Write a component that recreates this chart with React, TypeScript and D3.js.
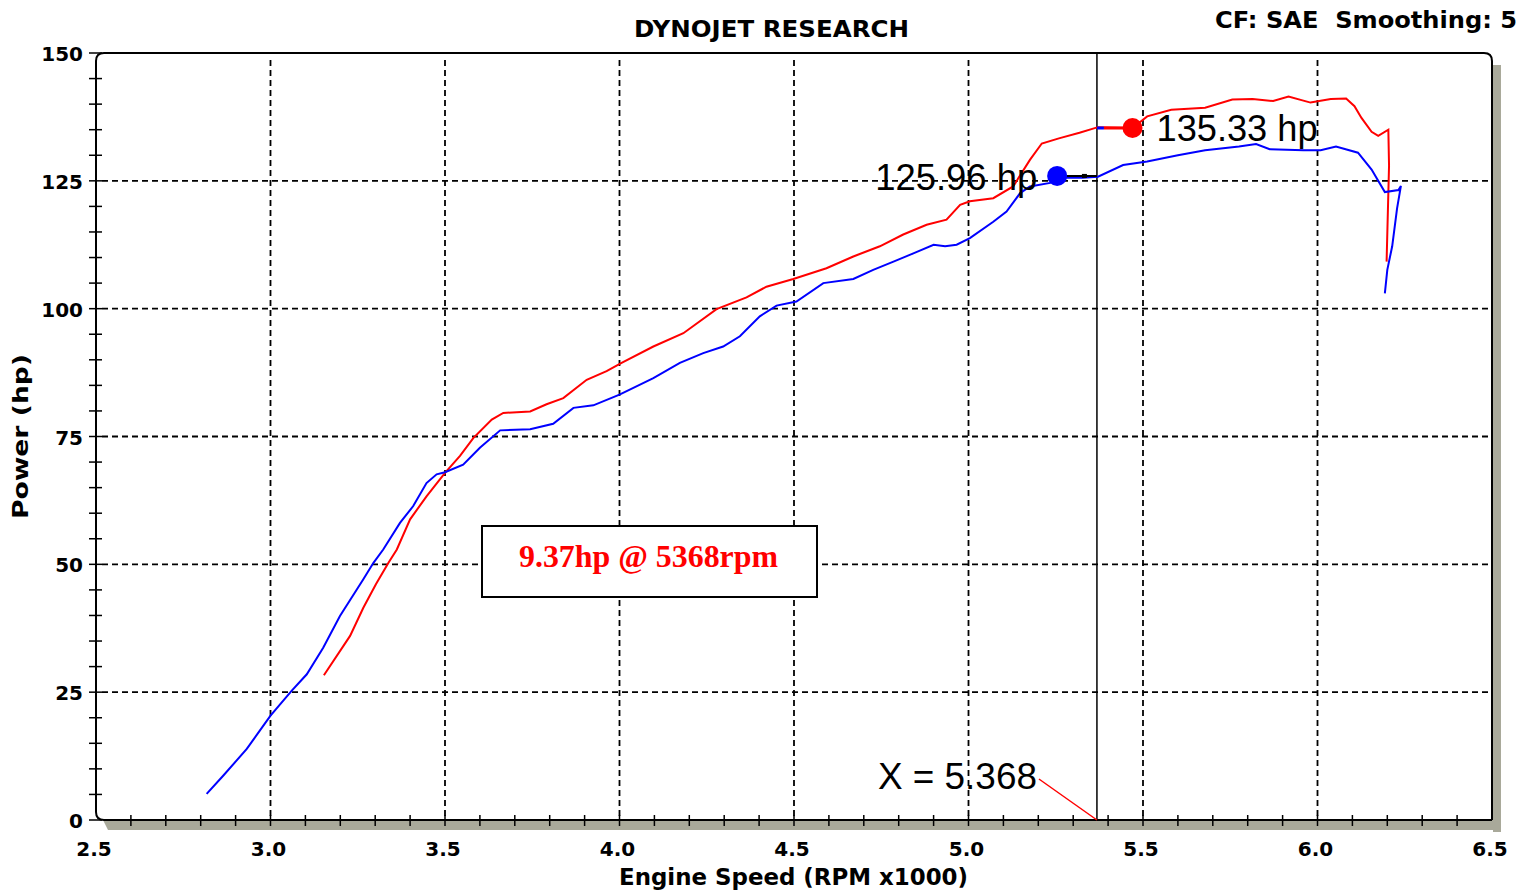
import React from 'react'
import * as d3 from 'd3'

// Dyno run values (rpm x1000, hp)
const redRpm = [3.153, 3.228, 3.266, 3.302, 3.338, 3.362, 3.4, 3.447, 3.5, 3.543, 3.581, 3.634, 3.667, 3.744, 3.791, 3.839, 3.906, 3.963, 4.006, 4.097, 4.183, 4.278, 4.364, 4.421, 4.498, 4.593, 4.67, 4.746, 4.813, 4.88, 4.937, 4.976, 5.004, 5.071, 5.128, 5.176, 5.21, 5.259, 5.318, 5.371, 5.47, 5.512, 5.581, 5.678, 5.756, 5.814, 5.873, 5.917, 5.98, 6.038, 6.082, 6.106, 6.126, 6.155, 6.174, 6.203, 6.205, 6.198]
const redHp = [28.3, 36.0, 41.5, 46.1, 50.3, 52.9, 58.8, 63.3, 67.9, 71.2, 74.7, 78.3, 79.6, 79.9, 81.3, 82.5, 86.1, 87.8, 89.4, 92.6, 95.2, 99.9, 102.2, 104.3, 105.8, 107.9, 110.2, 112.2, 114.5, 116.4, 117.4, 120.3, 121.0, 121.6, 123.9, 129.1, 132.3, 133.3, 134.4, 135.5, 135.33, 137.6, 138.9, 139.3, 140.9, 141.0, 140.6, 141.5, 140.3, 141.0, 141.1, 139.6, 137.3, 134.6, 133.8, 135.0, 128.0, 109.2]

const blueRpm = [2.817, 2.865, 2.932, 3.0, 3.061, 3.104, 3.151, 3.199, 3.266, 3.295, 3.323, 3.371, 3.409, 3.447, 3.476, 3.5, 3.552, 3.6, 3.658, 3.744, 3.81, 3.868, 3.925, 4.0, 4.097, 4.173, 4.24, 4.297, 4.345, 4.402, 4.45, 4.507, 4.584, 4.67, 4.727, 4.785, 4.842, 4.9, 4.933, 4.966, 5.004, 5.071, 5.109, 5.148, 5.176, 5.234, 5.254, 5.328, 5.371, 5.443, 5.512, 5.6, 5.678, 5.775, 5.824, 5.863, 5.96, 6.009, 6.053, 6.116, 6.155, 6.193, 6.232, 6.239, 6.228, 6.214, 6.2, 6.193]
const blueHp = [5.1, 8.7, 13.9, 20.4, 25.3, 28.5, 33.7, 39.9, 47.1, 50.3, 52.9, 58.1, 61.4, 65.9, 67.6, 68.0, 69.5, 72.8, 76.2, 76.4, 77.5, 80.6, 81.1, 83.2, 86.4, 89.4, 91.3, 92.6, 94.6, 98.5, 100.6, 101.4, 105.0, 105.8, 107.6, 109.2, 110.8, 112.5, 112.2, 112.5, 113.8, 117.0, 119.0, 122.6, 123.9, 124.6, 125.6, 125.6, 125.8, 128.1, 128.8, 130.0, 131.0, 131.7, 132.2, 131.2, 131.0, 131.0, 131.7, 130.5, 127.2, 122.8, 123.2, 124.0, 119.6, 112.2, 107.6, 103.0]

const xTicks = [2.5, 3.0, 3.5, 4.0, 4.5, 5.0, 5.5, 6.0, 6.5]
const yTicks = [0, 25, 50, 75, 100, 125, 150]

const cursorRpm = 5.368
const redPeak = { rpm: 5.47, hp: 135.33, label: '135.33 hp' }
const bluePeak = { rpm: 5.254, hp: 125.96, label: '125.96 hp' }
const deltaText = '9.37hp @ 5368rpm'

const W = 1535
const H = 891
const left = 96
const right = 1492
const top = 53
const bottom = 820

export default function App() {
    const x = d3.scaleLinear().domain([2.5, 6.5]).range([left, right])
    const y = d3.scaleLinear().domain([0, 150]).range([bottom, top])

    const line = d3
        .line<[number, number]>()
        .x((d) => x(d[0]))
        .y((d) => y(d[1]))
        .curve(d3.curveLinear)

    const red = redRpm.map((r, i) => [r, redHp[i]] as [number, number])
    const blue = blueRpm.map((r, i) => [r, blueHp[i]] as [number, number])

    const minorX = d3.range(26, 65).map((v) => v / 10)
    const minorY = d3.range(0, 151, 5)
    const cx = x(cursorRpm)
    const shadow = '#a9a99a'
    const tickFont = 'DejaVu Sans, Verdana, sans-serif'

    // frame with rounded corners on top and bottom-left
    const r = 8
    const frame = `M${left},${bottom - r} V${top + r} Q${left},${top} ${left + r},${top} H${right - r} Q${right},${top} ${right},${top + r} V${bottom}`

    return (
        <svg width={W} height={H} style={{ position: 'absolute', left: 0, top: 0, background: '#fff' }}>
            {/* shadow */}
            <rect x={right + 1} y={top + 12} width={8} height={bottom - top} fill={shadow} />
            <path d={`M${left + 7},${bottom} H${right + 9} V${bottom + 10} H${left + 12} Z`} fill={shadow} />

            {/* grid */}
            {xTicks.slice(1, -1).map((t) => (
                <line key={'gx' + t} x1={x(t)} x2={x(t)} y1={top + 7} y2={bottom} stroke="#000" strokeWidth={1.8} strokeDasharray="6,4" />
            ))}
            {yTicks.slice(1, -1).map((t) => (
                <line key={'gy' + t} x1={left + 6} x2={right - 2} y1={y(t)} y2={y(t)} stroke="#000" strokeWidth={1.8} strokeDasharray="6,4" />
            ))}

            {/* minor ticks */}
            {minorX.map((t) => (
                <line key={'mx' + t} x1={x(t)} x2={x(t)} y1={bottom - 5} y2={bottom + 6} stroke="#000" strokeWidth={1.5} />
            ))}
            {minorY.map((t) => (
                <line key={'my' + t} x1={left - 7} x2={left + 6} y1={y(t)} y2={y(t)} stroke="#000" strokeWidth={1.5} />
            ))}

            {/* frame + axis */}
            <path d={frame} fill="none" stroke="#000" strokeWidth={2} />
            <path d={`M${left},${bottom - r} Q${left},${bottom} ${left + r},${bottom} H${right}`} fill="none" stroke="#000" strokeWidth={2} />

            {/* cursor */}
            <line x1={cx} x2={cx} y1={top} y2={bottom} stroke="#000" strokeWidth={1.5} />

            {/* curves */}
            <path d={line(red) ?? ''} fill="none" stroke="#ff0000" strokeWidth={2} />
            <path d={line(blue) ?? ''} fill="none" stroke="#0000ff" strokeWidth={2} />

            {/* peak markers */}
            <line x1={cx} x2={cx + 7} y1={y(redPeak.hp)} y2={y(redPeak.hp)} stroke="#0000ff" strokeWidth={3} />
            <line x1={cx + 7} x2={x(redPeak.rpm)} y1={y(redPeak.hp)} y2={y(redPeak.hp)} stroke="#ff0000" strokeWidth={3} />
            <circle cx={x(redPeak.rpm)} cy={y(redPeak.hp)} r={10} fill="#ff0000" />
            <line x1={x(bluePeak.rpm)} x2={cx} y1={y(bluePeak.hp)} y2={y(bluePeak.hp)} stroke="#000" strokeWidth={2} />
            <rect x={cx - 15} y={y(bluePeak.hp) - 2} width={5} height={4} fill="#000" />
            <circle cx={x(bluePeak.rpm)} cy={y(bluePeak.hp)} r={10} fill="#0000ff" />

            <text x={x(redPeak.rpm) + 24} y={y(redPeak.hp) + 13} fontFamily="Liberation Sans, Arial, sans-serif" fontSize={37} textLength={161} lengthAdjust="spacingAndGlyphs" fill="#000">
                {redPeak.label}
            </text>
            <text x={x(bluePeak.rpm) - 182} y={y(bluePeak.hp) + 14} fontFamily="Liberation Sans, Arial, sans-serif" fontSize={37} textLength={162} lengthAdjust="spacingAndGlyphs" fill="#000">
                {bluePeak.label}
            </text>

            {/* cursor readout */}
            <text x={cx - 219} y={789} fontFamily="Liberation Sans, Arial, sans-serif" fontSize={37} textLength={159} lengthAdjust="spacingAndGlyphs" fill="#000">
                {'X = ' + cursorRpm.toFixed(3)}
            </text>
            <line x1={cx - 58} y1={779} x2={cx} y2={y(0)} stroke="#ff0000" strokeWidth={1.5} />

            {/* delta box */}
            <rect x={482} y={526} width={335} height={71} fill="#fff" stroke="#000" strokeWidth={2} />
            <text x={519} y={567} fontFamily="Liberation Serif, Times New Roman, serif" fontWeight="bold" fontSize={32} textLength={259} lengthAdjust="spacingAndGlyphs" fill="#ff0000">
                {deltaText}
            </text>

            {/* tick labels */}
            {yTicks.map((t) => (
                <text key={'ly' + t} x={83} y={y(t) + 8} textAnchor="end" fontFamily={tickFont} fontWeight="bold" fontSize={20} fill="#000">
                    {t}
                </text>
            ))}
            {xTicks.map((t) => (
                <text key={'lx' + t} x={x(t) - 2} y={856} textAnchor="middle" fontFamily={tickFont} fontWeight="bold" fontSize={20} fill="#000">
                    {d3.format('.1f')(t)}
                </text>
            ))}

            {/* titles */}
            <text x={634} y={37} fontFamily={tickFont} fontWeight="bold" fontSize={23} textLength={275} lengthAdjust="spacingAndGlyphs" fill="#000">
                DYNOJET RESEARCH
            </text>
            <text x={1215} y={28} fontFamily={tickFont} fontWeight="bold" fontSize={23} textLength={302} lengthAdjust="spacingAndGlyphs" fill="#000" style={{ whiteSpace: 'pre' }}>
                CF: SAE  Smoothing: 5
            </text>
            <text x={619} y={885} fontFamily={tickFont} fontWeight="bold" fontSize={23} textLength={349} lengthAdjust="spacingAndGlyphs" fill="#000">
                Engine Speed (RPM x1000)
            </text>
            <text transform="translate(28,519) rotate(-90)" fontFamily={tickFont} fontWeight="bold" fontSize={21} textLength={165} lengthAdjust="spacingAndGlyphs" fill="#000">
                Power (hp)
            </text>
        </svg>
    )
}
